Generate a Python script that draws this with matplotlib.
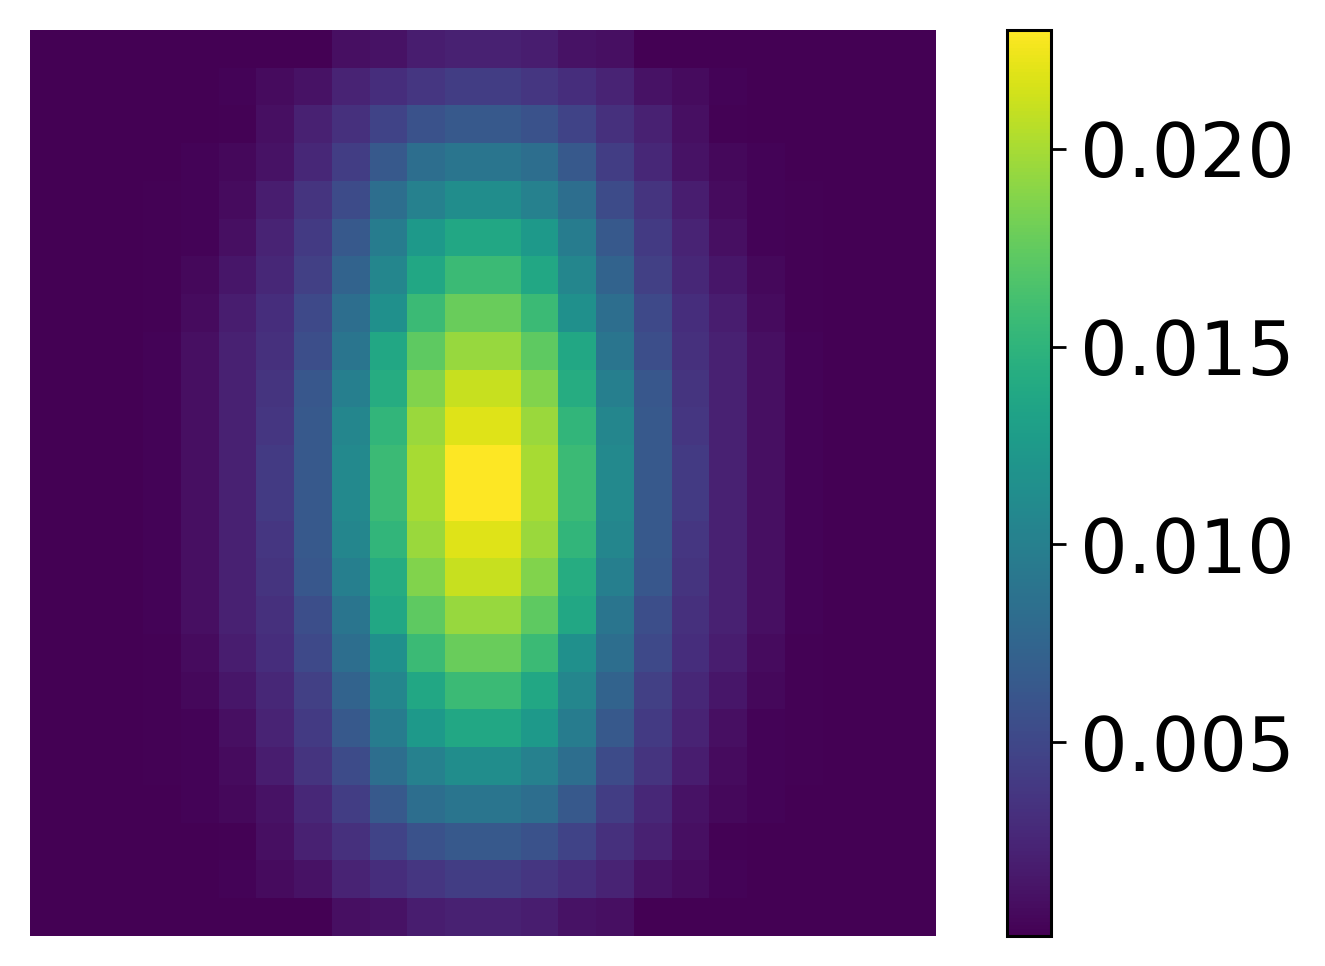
import numpy as np
import matplotlib
matplotlib.use("Agg")
import matplotlib.pyplot as plt

# Heatmap values (units of 1e-3), 24 x 24 cells
row_00 = [0.10, 0.10, 0.10, 0.10, 0.10, 0.10, 0.10, 0.10, 1.02, 1.25, 1.93, 2.16,
          2.16, 1.93, 1.25, 1.02, 0.10, 0.10, 0.10, 0.10, 0.10, 0.10, 0.10, 0.10]
row_01 = [0.10, 0.10, 0.10, 0.10, 0.10, 0.33, 0.79, 1.25, 2.39, 3.08, 3.76, 4.22,
          4.22, 3.76, 3.08, 2.39, 1.25, 0.79, 0.33, 0.10, 0.10, 0.10, 0.10, 0.10]
row_02 = [0.10, 0.10, 0.10, 0.10, 0.10, 0.21, 1.02, 2.16, 3.31, 4.68, 5.83, 6.51,
          6.51, 5.83, 4.68, 3.31, 2.16, 1.02, 0.21, 0.10, 0.10, 0.10, 0.10, 0.10]
row_03 = [0.10, 0.10, 0.10, 0.10, 0.33, 0.56, 1.25, 2.62, 4.22, 6.51, 8.34, 9.03,
          9.03, 8.34, 6.51, 4.22, 2.62, 1.25, 0.56, 0.33, 0.10, 0.10, 0.10, 0.10]
row_04 = [0.10, 0.10, 0.10, 0.21, 0.33, 0.79, 1.93, 3.54, 5.37, 8.34, 10.18, 11.32,
          11.32, 10.18, 8.34, 5.37, 3.54, 1.93, 0.79, 0.33, 0.21, 0.10, 0.10, 0.10]
row_05 = [0.10, 0.10, 0.10, 0.21, 0.33, 1.02, 2.39, 3.99, 6.51, 9.72, 12.47, 13.84,
          13.84, 12.47, 9.72, 6.51, 3.99, 2.39, 1.02, 0.33, 0.21, 0.10, 0.10, 0.10]
row_06 = [0.10, 0.10, 0.10, 0.21, 0.56, 1.47, 2.62, 4.45, 7.43, 10.63, 13.84, 15.67,
          15.67, 13.84, 10.63, 7.43, 4.45, 2.62, 1.47, 0.56, 0.21, 0.10, 0.10, 0.10]
row_07 = [0.10, 0.10, 0.10, 0.21, 0.79, 1.93, 3.08, 5.14, 8.34, 11.55, 15.67, 17.73,
          17.73, 15.67, 11.55, 8.34, 5.14, 3.08, 1.93, 0.79, 0.21, 0.10, 0.10, 0.10]
row_08 = [0.10, 0.10, 0.10, 0.33, 1.02, 2.16, 3.31, 5.60, 9.03, 13.84, 17.28, 19.45,
          19.45, 17.28, 13.84, 9.03, 5.60, 3.31, 2.16, 1.02, 0.33, 0.10, 0.10, 0.10]
row_09 = [0.10, 0.10, 0.10, 0.33, 1.02, 2.16, 3.54, 6.28, 9.95, 14.30, 18.65, 21.05,
          21.05, 18.65, 14.30, 9.95, 6.28, 3.54, 2.16, 1.02, 0.33, 0.10, 0.10, 0.10]
row_10 = [0.10, 0.10, 0.10, 0.33, 1.02, 2.16, 3.76, 6.51, 10.63, 15.21, 19.57, 21.86,
          21.86, 19.57, 15.21, 10.63, 6.51, 3.76, 2.16, 1.02, 0.33, 0.10, 0.10, 0.10]
row_11 = [0.10, 0.10, 0.10, 0.33, 1.02, 2.16, 3.99, 6.51, 10.86, 15.67, 20.02, 23.00,
          23.00, 20.02, 15.67, 10.86, 6.51, 3.99, 2.16, 1.02, 0.33, 0.10, 0.10, 0.10]
row_12 = [0.10, 0.10, 0.10, 0.33, 1.02, 2.16, 3.99, 6.51, 10.86, 15.67, 20.02, 23.00,
          23.00, 20.02, 15.67, 10.86, 6.51, 3.99, 2.16, 1.02, 0.33, 0.10, 0.10, 0.10]
row_13 = [0.10, 0.10, 0.10, 0.33, 1.02, 2.16, 3.76, 6.51, 10.63, 15.21, 19.57, 21.86,
          21.86, 19.57, 15.21, 10.63, 6.51, 3.76, 2.16, 1.02, 0.33, 0.10, 0.10, 0.10]
row_14 = [0.10, 0.10, 0.10, 0.33, 1.02, 2.16, 3.54, 6.28, 9.95, 14.30, 18.65, 21.05,
          21.05, 18.65, 14.30, 9.95, 6.28, 3.54, 2.16, 1.02, 0.33, 0.10, 0.10, 0.10]
row_15 = [0.10, 0.10, 0.10, 0.33, 1.02, 2.16, 3.31, 5.60, 9.03, 13.84, 17.28, 19.45,
          19.45, 17.28, 13.84, 9.03, 5.60, 3.31, 2.16, 1.02, 0.33, 0.10, 0.10, 0.10]
row_16 = [0.10, 0.10, 0.10, 0.21, 0.79, 1.93, 3.08, 5.14, 8.34, 11.55, 15.67, 17.73,
          17.73, 15.67, 11.55, 8.34, 5.14, 3.08, 1.93, 0.79, 0.21, 0.10, 0.10, 0.10]
row_17 = [0.10, 0.10, 0.10, 0.21, 0.56, 1.47, 2.62, 4.45, 7.43, 10.63, 13.84, 15.67,
          15.67, 13.84, 10.63, 7.43, 4.45, 2.62, 1.47, 0.56, 0.21, 0.10, 0.10, 0.10]
row_18 = [0.10, 0.10, 0.10, 0.21, 0.33, 1.02, 2.39, 3.99, 6.51, 9.72, 12.47, 13.84,
          13.84, 12.47, 9.72, 6.51, 3.99, 2.39, 1.02, 0.33, 0.21, 0.10, 0.10, 0.10]
row_19 = [0.10, 0.10, 0.10, 0.21, 0.33, 0.79, 1.93, 3.54, 5.37, 8.34, 10.18, 11.32,
          11.32, 10.18, 8.34, 5.37, 3.54, 1.93, 0.79, 0.33, 0.21, 0.10, 0.10, 0.10]
row_20 = [0.10, 0.10, 0.10, 0.10, 0.33, 0.56, 1.25, 2.62, 4.22, 6.51, 8.34, 9.03,
          9.03, 8.34, 6.51, 4.22, 2.62, 1.25, 0.56, 0.33, 0.10, 0.10, 0.10, 0.10]
row_21 = [0.10, 0.10, 0.10, 0.10, 0.10, 0.21, 1.02, 2.16, 3.31, 4.68, 5.83, 6.51,
          6.51, 5.83, 4.68, 3.31, 2.16, 1.02, 0.21, 0.10, 0.10, 0.10, 0.10, 0.10]
row_22 = [0.10, 0.10, 0.10, 0.10, 0.10, 0.33, 0.79, 1.25, 2.39, 3.08, 3.76, 4.22,
          4.22, 3.76, 3.08, 2.39, 1.25, 0.79, 0.33, 0.10, 0.10, 0.10, 0.10, 0.10]
row_23 = [0.10, 0.10, 0.10, 0.10, 0.10, 0.10, 0.10, 0.10, 1.02, 1.25, 1.93, 2.16,
          2.16, 1.93, 1.25, 1.02, 0.10, 0.10, 0.10, 0.10, 0.10, 0.10, 0.10, 0.10]

rows = [row_00, row_01, row_02, row_03, row_04, row_05, row_06, row_07,
        row_08, row_09, row_10, row_11, row_12, row_13, row_14, row_15,
        row_16, row_17, row_18, row_19, row_20, row_21, row_22, row_23]
grid = np.array(rows) * 1e-3

cbar_ticks = [0.005, 0.010, 0.015, 0.020]

W, H, DPI = 1325, 966, 200
fig = plt.figure(figsize=(W / DPI, H / DPI), dpi=DPI)

# main heatmap, no axes decorations
ax = fig.add_axes([30 / W, 30 / H, 906 / W, 906 / H])
im = ax.imshow(grid, cmap="viridis", aspect="auto", interpolation="nearest",
               vmin=0.0001, vmax=0.023)
ax.axis("off")

# colorbar on the right
cax = fig.add_axes([1007 / W, 30 / H, 44 / W, 906 / H])
cb = fig.colorbar(im, cax=cax, ticks=cbar_ticks)
cb.ax.set_yticklabels([f"{t:.3f}" for t in cbar_ticks])
cb.ax.tick_params(labelsize=27, length=5.5, width=1.0, pad=5)
cb.outline.set_linewidth(1.1)

fig.savefig("out.png", dpi=DPI)
